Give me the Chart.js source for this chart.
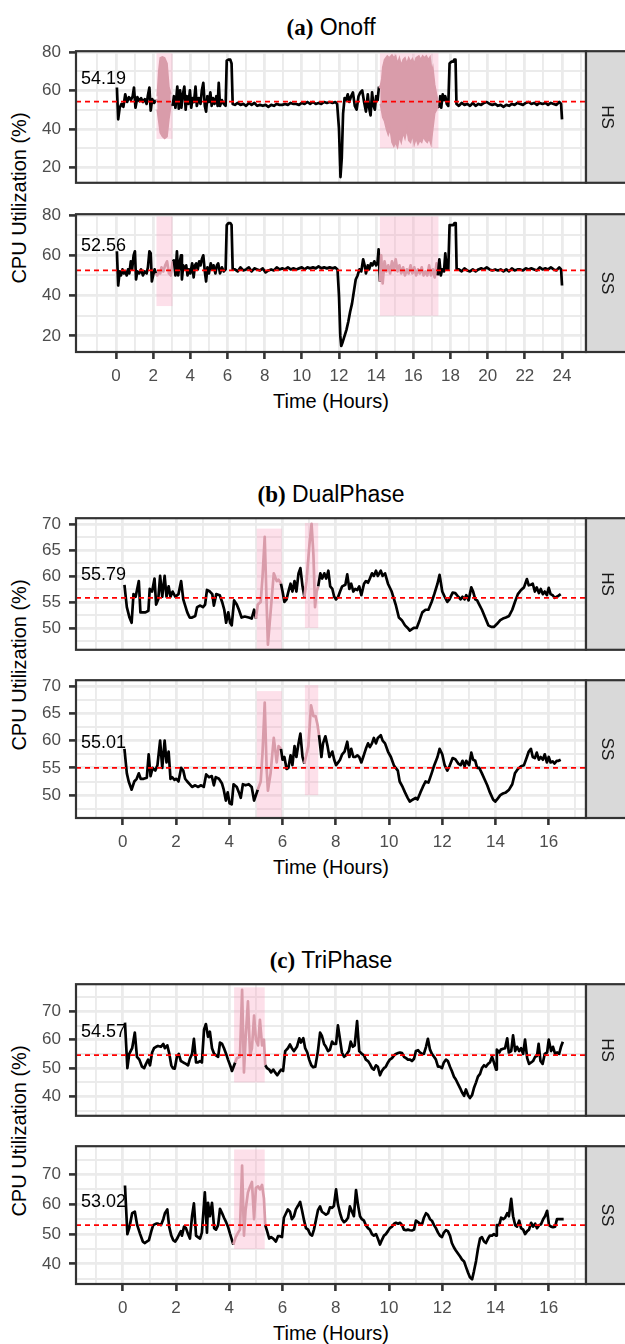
<!DOCTYPE html>
<html>
<head>
<meta charset="utf-8">
<script src="https://cdn.jsdelivr.net/npm/chart.js@4.4.1/dist/chart.umd.min.js"></script>
<style>
html,body{margin:0;padding:0;background:#fff;}
#root{position:relative;width:625px;height:1344px;overflow:hidden;font-family:"Liberation Sans",Arial,sans-serif;color:#000;}
#root canvas{position:absolute;left:0;}
.ptitle{position:absolute;left:76px;width:510px;text-align:center;font-size:23px;line-height:23px;white-space:nowrap;}
.ptitle b{font-family:"Liberation Serif","Times New Roman",serif;font-weight:bold;}
.xtitle{position:absolute;left:76px;width:510px;text-align:center;font-size:20px;line-height:20px;white-space:nowrap;}
.ytitle{position:absolute;width:0;height:0;}
.ytitle span{position:absolute;left:0;top:0;transform:translate(-50%,-50%) rotate(-90deg);white-space:nowrap;font-size:20px;line-height:20px;}
</style>
</head>
<body>
<div id="root"></div>
<script>
// ---------------- DATA ----------------
const groupLetters = ['(a)', '(b)', '(c)'];
const groupNames = ['Onoff', 'DualPhase', 'TriPhase'];
const facetNames = ['HS', 'SS'];
const xAxisTitle = 'Time (Hours)';
const yAxisTitle = 'CPU Utilization (%)';

const onoffMeans = [54.19, 52.56];
const dualMeans = [55.79, 55.01];
const triMeans = [54.57, 53.02];

const onoffXTicks = [0, 2, 4, 6, 8, 10, 12, 14, 16, 18, 20, 22, 24];
const phaseXTicks = [0, 2, 4, 6, 8, 10, 12, 14, 16];
const onoffYTicks = [20, 40, 60, 80];
const dualYTicks = [50, 55, 60, 65, 70];
const triYTicks = [40, 50, 60, 70];

// attack windows: [tStart, tEnd, yMin, yMax]
const onoffWindows = [[2.18, 3.04, 34.8, 79.3], [14.2, 17.35, 30.0, 79.3]];
const dualWindows = [[5.03, 5.97, 45.5, 69.1], [6.84, 7.34, 50.0, 70.2]];
const triWindows = [[4.18, 5.33, 45.0, 78.4]];

const onoffHS = [[0.05,61.5],[0.12,45],[0.2,51],[0.3,53],[0.4,51.5],[0.5,58],[0.6,54],[0.7,56.5],[0.8,55],[0.9,57],[0.97,61.5],[1.05,51],[1.15,56.5],[1.25,54.5],[1.35,56],[1.45,54],[1.55,55.5],[1.65,53],[1.72,57.5],[1.8,61.5],[1.87,49.5],[1.95,55.5],[2.05,53.5],[2.15,55],
[3.05,52],[3.12,57],[3.2,51],[3.3,62],[3.38,50.5],[3.45,60],[3.52,51],[3.6,58],[3.68,62],[3.75,50],[3.82,57],[3.9,53],[3.98,60],[4.05,51],[4.12,56],[4.2,54],[4.28,62],[4.35,52],[4.45,56],[4.55,53],[4.62,60],[4.7,64],[4.78,52],[4.85,49],[4.92,57],[5.0,54],[5.08,59],[5.15,52],[5.22,56],[5.3,53],[5.4,57],[5.47,52],[5.53,64],[5.6,52],[5.7,55],[5.8,53],[5.9,52],
[5.96,75.5],[6.05,76],[6.15,76],[6.22,74],[6.28,53],
[6.4,52.5],[6.55,53.5],[6.7,52.5],[6.85,53],[7.0,52],[7.15,53.5],[7.3,52.5],[7.45,53.5],[7.6,52],[7.75,52.5],[7.9,52],[8.05,52.5],[8.2,51.5],[8.35,52.5],[8.5,52],[8.65,53],[8.8,52.5],[8.95,52.5],[9.1,53],[9.25,52.5],[9.4,53.5],[9.55,53],[9.7,53],[9.85,52.5],[10.0,53.5],[10.15,53],[10.3,54],[10.45,53],[10.6,54],[10.75,53],[10.9,53.5],[11.05,53],[11.2,54],[11.35,53.5],[11.5,54],[11.65,53.5],[11.8,54],[11.9,53],
[12.0,40],[12.08,15],[12.15,25],[12.22,48],[12.3,56],
[12.38,55],[12.47,58],[12.55,54],[12.65,57],[12.75,59],[12.85,52],[12.95,50],[13.05,57],[13.15,59],[13.25,60],[13.35,54],[13.45,49],[13.55,58],[13.62,51],[13.7,47],[13.78,59],[13.86,52],[13.93,50],[14.0,57],[14.08,55],[14.15,62],
[17.4,51],[17.45,57],[17.5,51],[17.58,58],[17.65,55],[17.72,57],[17.8,53],[17.88,52],
[17.95,74],[18.05,75],[18.15,75],[18.2,76],[18.27,76],[18.32,53],
[18.45,52],[18.6,53.5],[18.75,52.5],[18.9,53],[19.05,52],[19.2,53.5],[19.35,52],[19.5,53],[19.65,52.5],[19.8,53.5],[19.95,54],[20.1,53],[20.25,52.5],[20.4,53],[20.55,52],[20.7,52.5],[20.85,51.5],[21.0,52.5],[21.15,52],[21.3,53],[21.45,52.5],[21.6,53.5],[21.75,53],[21.9,52.5],[22.05,53.5],[22.2,54],[22.35,53],[22.5,53.5],[22.65,52.5],[22.8,53.5],[22.95,53],[23.1,53.5],[23.25,52.5],[23.4,53.5],[23.55,53],[23.7,52.5],[23.85,54],[23.95,53],[24.0,45]];

// dense oscillation envelopes in the HS attack windows
const onoffHSBand1Hi = [[2.22,57],[2.3,70],[2.38,77],[2.5,77.5],[2.62,77],[2.75,74],[2.85,62],[2.95,58]];
const onoffHSBand1Lo = [[2.22,50],[2.3,44],[2.38,38],[2.5,36],[2.62,35],[2.75,36],[2.85,45],[2.95,52]];
const onoffHSBand2Hi = [[14.22,62],[14.3,66],[14.35,72],[14.45,76],[14.6,78],[14.7,77],[14.85,78.5],[14.95,77],[15.05,78],[15.15,74],[15.25,77],[15.35,73],[15.45,76],[15.55,77],[15.65,74],[15.75,77],[15.85,75],[15.95,76.5],[16.05,74],[16.15,77],[16.3,78],[16.4,76],[16.5,78],[16.6,77],[16.7,78],[16.8,76],[16.9,77.5],[17.0,70],[17.05,72],[17.15,63],[17.25,58],[17.32,55]];
const onoffHSBand2Lo = [[14.22,53],[14.3,49],[14.35,46],[14.45,44],[14.55,40],[14.65,37],[14.75,40],[14.85,33],[14.95,31],[15.05,33],[15.15,30.5],[15.25,36],[15.35,33],[15.45,38],[15.55,35],[15.65,40],[15.75,34],[15.85,33],[15.95,37],[16.05,32],[16.15,35],[16.25,32],[16.35,34],[16.45,33],[16.55,36],[16.65,34],[16.75,33],[16.85,35],[16.95,32],[17.05,40],[17.15,48],[17.25,50],[17.32,52]];

const onoffSS = [[0.05,62],[0.12,45],[0.2,52],[0.27,50],[0.35,53],[0.43,51],[0.5,52],[0.58,50],[0.65,53],[0.72,51],[0.8,57],[0.87,53],[0.95,60],[1.02,62],[1.08,48],[1.15,52],[1.25,51],[1.35,53],[1.45,50],[1.55,52],[1.65,51],[1.72,54],[1.8,62],[1.87,61],[1.93,47],[2.0,50],[2.08,53],[2.15,51],
[2.22,50],[2.3,52],[2.38,51],[2.45,54],[2.55,52],[2.65,55],[2.75,57],[2.85,51],[2.95,50],
[3.05,57],[3.12,57.5],[3.2,50],[3.28,62],[3.35,50],[3.42,56],[3.5,60],[3.55,48],[3.62,55],[3.7,53],[3.78,55],[3.85,50],[3.92,53],[4.0,51],[4.1,56],[4.18,49],[4.25,55],[4.32,56],[4.4,53],[4.48,57],[4.55,55],[4.62,58],[4.7,60],[4.78,52],[4.85,47],[4.92,54],[5.0,51],[5.1,56],[5.18,53],[5.25,55],[5.35,51],[5.43,55],[5.5,56],[5.6,51],[5.7,54],[5.8,52],[5.9,53],
[5.96,75],[6.05,76],[6.15,76],[6.22,75],[6.28,53],
[6.4,53],[6.55,52],[6.7,54],[6.85,52.5],[7.0,53],[7.15,54],[7.3,52],[7.45,53.5],[7.6,53],[7.75,52.5],[7.9,53.5],[8.05,51.5],[8.2,52.5],[8.35,53],[8.5,52.5],[8.65,54],[8.8,53],[8.95,53.5],[9.1,53],[9.25,54],[9.4,53],[9.55,53.5],[9.7,53],[9.85,53.5],[10.0,54],[10.15,53],[10.3,54],[10.45,53.5],[10.6,54],[10.75,53.5],[10.9,54.5],[11.05,53.5],[11.2,54],[11.35,53.5],[11.5,54],[11.65,53.5],[11.8,54],[11.92,53],
[12.0,40],[12.07,20],[12.12,15],[12.2,17],[12.3,20],[12.4,23],[12.5,27],[12.6,32],[12.7,36],[12.8,42],[12.9,48],[13.0,50],[13.1,53],[13.2,52],[13.3,58],[13.38,55],[13.45,51],[13.55,55],[13.62,53],[13.72,56],[13.8,55],[13.9,57],[14.0,55],[14.07,56],[14.13,63],
[14.2,47],[14.27,60],[14.35,46],[14.45,57],[14.55,52],[14.65,55],[14.75,51],[14.85,57],[14.95,53],[15.05,58],[15.15,52],[15.25,55],[15.35,51],[15.45,54],[15.55,50],[15.65,53],[15.75,51],[15.85,55],[15.95,51],[16.05,54],[16.15,50],[16.25,53],[16.35,51],[16.45,54],[16.55,50],[16.65,52],[16.75,50],[16.85,55],[16.95,50],[17.05,53],[17.15,49],[17.25,56],[17.32,50],
[17.4,58],[17.48,50],[17.55,53],[17.65,52],[17.72,61],[17.8,53],[17.88,53],
[17.95,75],[18.05,75],[18.15,75],[18.22,76],[18.28,76],[18.33,53],
[18.45,53],[18.6,52],[18.75,53.5],[18.9,52.5],[19.05,52],[19.2,53],[19.35,52],[19.5,53],[19.65,53.5],[19.8,53],[19.95,54],[20.1,53],[20.25,52.5],[20.4,53],[20.55,52.5],[20.7,53],[20.85,52],[21.0,53],[21.15,52],[21.3,53.5],[21.45,52.5],[21.6,53],[21.75,53],[21.9,52.5],[22.05,53.5],[22.2,53],[22.35,53.5],[22.5,53],[22.65,52.5],[22.8,54],[22.95,53],[23.1,53.5],[23.25,53],[23.4,54],[23.55,53],[23.7,52.5],[23.85,54],[23.95,53],[24.0,45]];

const dualHS = [[0.06,58.3],[0.15,54],[0.25,52],[0.33,51],[0.4,56.5],[0.48,56],[0.6,59],[0.66,53],[0.85,53],[0.96,53.3],[1.01,57.5],[1.1,57],[1.19,59.5],[1.25,54.5],[1.33,55.5],[1.4,60],[1.48,56],[1.57,60],[1.64,56],[1.72,58],[1.79,56],[1.87,57],[1.97,56],[2.09,56.5],[2.19,59],[2.27,55.5],[2.42,53],[2.51,52],[2.6,52],[2.72,52.3],[2.79,54],[2.91,54.3],[3.01,54],[3.09,54.5],[3.16,57.3],[3.27,57],[3.36,56.5],[3.42,54.3],[3.51,56.5],[3.64,56.3],[3.73,55],[3.81,53.5],[3.88,51],[3.96,53],[4.03,51],[4.09,50.5],[4.18,55.3],[4.28,54.5],[4.36,53.5],[4.46,52],[4.58,52.2],[4.73,52],[4.84,51.8],[4.93,53.5],[5.0,51.8],
[5.07,54.5],[5.18,55],[5.25,60],[5.33,67.5],[5.4,55],[5.45,46.8],[5.55,53],[5.67,60.5],[5.78,59],[5.85,59.3],[5.94,58.5],
[6.0,57],[6.07,55],[6.15,55.5],[6.22,57],[6.3,58.5],[6.37,57],[6.45,59],[6.52,57],[6.6,60.5],[6.67,61.5],[6.75,58],[6.82,56],
[6.9,59],[7.01,66],[7.09,70],[7.16,64],[7.22,54],[7.28,57],[7.34,58],
[7.42,60.5],[7.49,59.5],[7.57,60.5],[7.64,59.5],[7.72,61],[7.79,58],[7.87,57.5],[7.94,56],[8.01,55.5],[8.09,56],[8.16,57],[8.24,58],[8.36,58.3],[8.43,60.3],[8.51,57.5],[8.58,58.5],[8.66,57],[8.73,57.5],[8.81,57.3],[8.88,58],[8.96,56.3],[9.06,58.5],[9.13,59],[9.21,58.7],[9.28,59.5],[9.36,60.5],[9.43,60],[9.51,61],[9.58,60],[9.69,61],[9.76,60],[9.85,60.5],[9.96,58.5],[10.1,57],[10.25,54.5],[10.37,52],[10.48,51.5],[10.6,50.5],[10.7,50],[10.78,49.5],[10.93,50],[11.04,50],[11.15,51.5],[11.25,53],[11.37,53.5],[11.48,53.5],[11.6,55],[11.7,56.5],[11.82,58.5],[11.9,60.2],[12.0,57],[12.09,56],[12.19,55],[12.27,55.5],[12.39,56.8],[12.49,56.7],[12.6,56],[12.69,55.5],[12.76,56],[12.84,55.5],[12.9,56.3],[12.99,55.3],[13.09,57.8],[13.16,57],[13.24,55.5],[13.31,55.3],[13.39,54.5],[13.49,53.5],[13.61,52],[13.73,50.5],[13.84,50.2],[13.94,50.2],[14.06,50.8],[14.18,51.5],[14.28,51.8],[14.39,52],[14.51,52.3],[14.63,53.5],[14.73,55],[14.84,56.5],[14.96,57.3],[15.07,57.8],[15.18,59.4],[15.25,58.2],[15.33,58.3],[15.4,58.5],[15.48,57],[15.55,57.8],[15.63,56.7],[15.7,57.5],[15.78,56.5],[15.85,57],[15.93,56.3],[16.0,57.7],[16.07,56.5],[16.15,56.3],[16.22,55.8],[16.3,56],[16.37,56.2],[16.45,56.5]];

const dualSS = [[0.06,58.5],[0.15,54],[0.22,52.5],[0.33,51],[0.43,52.5],[0.52,53],[0.6,54],[0.67,53],[0.78,53],[0.9,53.2],[0.97,57.5],[1.04,53.5],[1.12,55],[1.22,54.5],[1.3,55.5],[1.4,60],[1.48,55],[1.57,60],[1.64,56],[1.72,58],[1.79,53],[1.85,53.3],[1.94,52.8],[2.01,53],[2.09,52.5],[2.19,55],[2.27,54.5],[2.34,53],[2.42,52.5],[2.51,52],[2.6,51.5],[2.72,51.8],[2.82,51.5],[2.94,51.8],[3.04,51.5],[3.13,53.8],[3.24,53.3],[3.34,53.5],[3.42,51.8],[3.49,53.3],[3.61,53],[3.72,52.2],[3.79,51],[3.87,49],[3.94,50.5],[4.01,48.5],[4.09,48.3],[4.16,52],[4.28,51.5],[4.36,50.5],[4.43,49.5],[4.51,52],[4.61,51.8],[4.73,52],[4.84,51.5],[4.93,49],
[5.07,51],[5.18,52.5],[5.25,58],[5.33,67],[5.4,55],[5.45,50.8],[5.55,54],[5.67,60.5],[5.78,56],[5.85,59],[5.94,58.5],
[6.0,56.5],[6.07,57],[6.15,54.8],[6.22,55],[6.3,57.3],[6.37,55.5],[6.45,59],[6.52,57],[6.6,59.5],[6.67,61.3],[6.75,57],[6.82,55.8],
[6.9,57.5],[6.97,59],[7.07,66.5],[7.16,64.5],[7.24,64.5],[7.31,63],
[7.37,61],[7.46,57],[7.52,59.5],[7.61,60.8],[7.69,59],[7.76,57],[7.87,58],[7.94,56.5],[8.01,55.5],[8.09,56],[8.16,56.5],[8.24,57.5],[8.33,58],[8.43,59.8],[8.51,57],[8.58,58.5],[8.66,57],[8.73,57],[8.81,57.3],[8.88,57],[8.96,56],[9.03,57],[9.13,58.5],[9.21,59.5],[9.28,58.8],[9.36,59.5],[9.43,60.5],[9.51,59.5],[9.58,60.5],[9.69,61],[9.76,60],[9.85,59.5],[9.96,58],[10.07,57],[10.18,55.5],[10.25,55],[10.33,54.5],[10.4,52.5],[10.51,51.5],[10.6,50.5],[10.7,49.5],[10.78,48.8],[10.9,49.2],[11.0,49.5],[11.07,49.2],[11.18,50.5],[11.27,51.5],[11.37,52.5],[11.48,52.3],[11.6,54],[11.7,55.5],[11.82,57],[11.9,58.5],[12.0,57.5],[12.09,55.5],[12.19,54.5],[12.27,55.3],[12.39,56.8],[12.49,56.6],[12.6,55.8],[12.69,55.5],[12.76,56.3],[12.84,55.3],[12.9,56.3],[13.01,55.5],[13.09,57.8],[13.16,56.5],[13.24,56.3],[13.31,55],[13.39,55],[13.49,54],[13.58,53],[13.69,51.8],[13.79,50.5],[13.91,49.2],[13.99,48.8],[14.06,49.2],[14.18,50],[14.28,50.3],[14.39,50.5],[14.51,51],[14.63,52],[14.73,54],[14.84,54.8],[14.96,55.3],[15.07,55.5],[15.18,57],[15.25,58],[15.33,58.5],[15.4,57],[15.48,56.8],[15.55,57.8],[15.63,56.5],[15.7,57],[15.78,56.5],[15.85,57.5],[15.93,56],[16.0,57],[16.07,56],[16.15,56.2],[16.22,55.8],[16.3,56.3],[16.37,56.3],[16.45,56.5]];

const triHS = [[0.08,66],[0.17,50],[0.24,55],[0.35,57],[0.45,62.5],[0.53,54],[0.62,53],[0.72,50.5],[0.8,50],[0.87,51.5],[0.95,53],[1.02,51],[1.1,55.5],[1.17,57],[1.25,57.5],[1.32,57.8],[1.43,57.5],[1.52,58.5],[1.58,57],[1.67,58],[1.74,55.3],[1.82,51],[1.88,50],[1.95,49.8],[2.03,54],[2.1,55],[2.18,52.5],[2.27,52],[2.37,51.5],[2.45,51],[2.52,53.3],[2.6,55],[2.67,60.3],[2.75,52],[2.82,52],[2.9,52.5],[2.97,52],[3.05,63.5],[3.12,65.5],[3.2,61],[3.27,62.8],[3.35,57],[3.43,55],[3.5,54.5],[3.58,54],[3.65,59],[3.73,58.5],[3.8,57],[3.88,55],[3.95,53],[4.03,51],[4.1,49],
[4.22,52],[4.28,53.5],[4.4,54],[4.48,77.5],[4.55,48.5],[4.61,60],[4.7,73.5],[4.78,54.5],[4.85,57],[4.93,68.5],[5.0,60],[5.08,58],[5.15,67],[5.23,58],[5.3,60],
[5.35,51],[5.42,50],[5.5,49.5],[5.57,48.5],[5.65,49.5],[5.72,48.5],[5.8,47.5],[5.87,48.5],[5.95,49.5],[6.02,49],[6.1,56],[6.2,57],[6.28,58.3],[6.35,57],[6.43,56],[6.54,57.5],[6.63,60.5],[6.69,59],[6.78,60.5],[6.85,57],[6.93,55.5],[7.0,53],[7.08,51],[7.15,50.3],[7.23,50.5],[7.33,56],[7.41,62.5],[7.48,61.3],[7.56,58.5],[7.63,57.5],[7.71,56],[7.78,56.5],[7.86,59.3],[7.93,58.5],[8.01,58.5],[8.08,65],[8.16,60],[8.23,55.5],[8.31,54],[8.38,54.5],[8.49,56],[8.56,59.3],[8.64,57.5],[8.71,58],[8.8,66.5],[8.88,56],[8.98,55],[9.06,54.5],[9.13,53],[9.21,52.5],[9.28,51.5],[9.36,50],[9.43,49.5],[9.51,51],[9.58,50.5],[9.66,47.5],[9.73,49],[9.81,50],[9.88,50.5],[9.96,52],[10.03,53],[10.11,53.5],[10.19,54.5],[10.26,55],[10.34,55.3],[10.41,55.5],[10.49,55.3],[10.56,54],[10.64,53.5],[10.71,53],[10.79,53],[10.86,52.5],[10.94,53.3],[11.01,56],[11.09,56.3],[11.16,55.5],[11.24,55],[11.31,55],[11.39,57.5],[11.46,60.3],[11.54,56.5],[11.61,55],[11.69,54],[11.76,53],[11.84,50.5],[11.91,50.5],[11.99,50],[12.06,52],[12.14,53],[12.21,52.5],[12.29,50.5],[12.36,49],[12.44,47],[12.51,46],[12.59,44.5],[12.67,43],[12.74,41.5],[12.82,40.3],[12.89,42.5],[12.97,40.5],[13.04,39.5],[13.12,40.5],[13.19,43],[13.27,45],[13.34,47],[13.42,48],[13.49,50],[13.57,51],[13.64,50.5],[13.72,51.5],[13.79,52],[13.87,54],[13.94,52],[14.02,49.5],[14.05,56.5],[14.14,55.5],[14.2,56.5],[14.29,56.8],[14.36,57],[14.44,60.5],[14.5,55.5],[14.59,56],[14.66,61.5],[14.74,56],[14.81,57.5],[14.89,56],[14.96,57],[15.04,55],[15.11,60],[15.19,53.5],[15.26,51.5],[15.34,52],[15.41,52.5],[15.49,54],[15.56,54.3],[15.62,58.5],[15.69,52.5],[15.77,51.5],[15.85,55],[15.94,55.5],[16.0,60],[16.09,56],[16.16,57.5],[16.24,55],[16.31,55.5],[16.39,55],[16.46,57.5],[16.53,59.3]];

const triSS = [[0.08,66.3],[0.17,50],[0.24,52],[0.35,57],[0.45,57.5],[0.54,53],[0.65,50],[0.75,47.5],[0.83,47],[0.9,47.5],[0.98,48],[1.07,51],[1.14,53],[1.25,53.5],[1.32,53.5],[1.43,53],[1.52,55],[1.58,57],[1.67,58.3],[1.74,52.5],[1.82,49.5],[1.89,48],[1.97,47.5],[2.04,48.5],[2.12,50],[2.18,51],[2.22,49.5],[2.3,52.5],[2.37,52],[2.45,50],[2.52,48.5],[2.6,56],[2.67,60.3],[2.75,49.5],[2.82,49],[2.9,48.5],[2.97,50.5],[3.08,64],[3.16,50.5],[3.2,60.5],[3.27,56],[3.35,60.5],[3.43,52],[3.5,51.5],[3.58,53],[3.65,58.5],[3.73,57],[3.8,55.5],[3.88,54],[3.95,52.5],[4.03,50],[4.1,48],[4.15,46.5],
[4.24,49],[4.33,50.5],[4.4,51.5],[4.48,73],[4.55,49.5],[4.61,58],[4.7,64],[4.78,66],[4.85,67.5],[4.93,55],[5.0,65.5],[5.08,66],[5.15,65],[5.23,66.5],[5.3,62],
[5.35,53],[5.42,51],[5.5,48.5],[5.57,49],[5.65,48.5],[5.75,47.5],[5.83,49.3],[5.9,49.3],[5.98,49],[6.05,55.5],[6.13,57],[6.2,58.3],[6.28,57.5],[6.35,55],[6.43,56],[6.5,58.3],[6.58,59.5],[6.66,60.8],[6.73,58],[6.81,54.5],[6.88,52],[6.96,51.5],[7.03,50],[7.11,49.5],[7.18,51.5],[7.26,55],[7.33,58],[7.41,59.3],[7.48,57.5],[7.56,57],[7.63,56.5],[7.71,57],[7.78,59],[7.86,58.8],[7.93,59.5],[8.01,65],[8.08,60],[8.16,57],[8.23,55],[8.31,54],[8.38,54.5],[8.46,55.5],[8.53,59.3],[8.61,57.5],[8.68,56],[8.76,64.8],[8.83,60],[8.91,56],[8.98,55],[9.06,54.5],[9.13,53],[9.21,52],[9.28,51.5],[9.36,50],[9.43,49.5],[9.51,50],[9.58,48.5],[9.66,46.5],[9.73,48],[9.81,49.5],[9.88,50],[9.96,51],[10.03,52],[10.11,52.5],[10.19,53.5],[10.26,53.8],[10.34,53.5],[10.41,53.8],[10.49,53],[10.56,51.5],[10.64,51.3],[10.71,51.5],[10.79,51.3],[10.86,51.2],[10.94,51.5],[11.01,54.5],[11.09,54],[11.16,53.5],[11.24,53.3],[11.31,55.5],[11.39,57],[11.46,56.5],[11.54,55],[11.61,54.5],[11.69,53],[11.76,52],[11.84,50.5],[11.91,49.5],[11.99,49],[12.06,50.5],[12.14,51.3],[12.21,51],[12.29,49.5],[12.36,47],[12.44,45.5],[12.51,44.5],[12.59,43.5],[12.67,42.5],[12.74,41.5],[12.82,40.8],[12.89,39],[12.97,37],[13.04,35.5],[13.12,34.8],[13.19,37.5],[13.27,41],[13.34,45],[13.42,48.5],[13.49,49],[13.57,47.5],[13.64,47],[13.72,48.5],[13.79,49.5],[13.87,49.5],[13.94,50],[14.02,49.5],[14.05,53],[14.14,53],[14.21,55.5],[14.29,55],[14.36,55.5],[14.44,57],[14.5,56],[14.59,61.8],[14.66,56],[14.74,53],[14.81,52.5],[14.89,54.5],[14.96,52],[15.04,51.5],[15.11,50],[15.19,51],[15.26,51.5],[15.34,53.8],[15.41,52.5],[15.49,53.5],[15.56,52],[15.64,53],[15.71,53.3],[15.79,55],[15.86,56],[15.94,57.8],[16.01,53],[16.09,52.5],[16.16,52.3],[16.24,52.5],[16.31,55],[16.42,55],[16.56,55]];

// ---------------- LAYOUT / STYLE ----------------
const FONT = '"Liberation Sans", Arial, sans-serif';
const MAUVE = '#D99CAA';
const PANEL_H = 144;
const PAD = 12;
const X_AXIS_H = 46;

const groups = [
  { letter: groupLetters[0], name: groupNames[0], tops: [44.5, 208], titleY: 27, xTitleY: 401,
    xRange: [-2.15, 25.29], yRange: [12.0, 80.4], xLabels: onoffXTicks, yLabels: onoffYTicks,
    windows: onoffWindows, means: onoffMeans, labelY: [66.1, 64.5],
    series: [onoffHS, onoffSS],
    bands: [[{hi: onoffHSBand1Hi, lo: onoffHSBand1Lo}, {hi: onoffHSBand2Hi, lo: onoffHSBand2Lo}], []] },
  { letter: groupLetters[1], name: groupNames[1], tops: [511.7, 674], titleY: 494, xTitleY: 867,
    xRange: [-1.76, 17.4], yRange: [45.8, 71.1], xLabels: phaseXTicks, yLabels: dualYTicks,
    windows: dualWindows, means: dualMeans, labelY: [60.2, 59.5],
    series: [dualHS, dualSS], bands: [[], []] },
  { letter: groupLetters[2], name: groupNames[2], tops: [977.7, 1140], titleY: 960, xTitleY: 1333,
    xRange: [-1.76, 17.4], yRange: [33.25, 79.5], xLabels: phaseXTicks, yLabels: triYTicks,
    windows: triWindows, means: triMeans, labelY: [62.6, 60.7],
    series: [triHS, triSS], bands: [[], []] }
];

const root = document.getElementById('root');

function gridValues(labels, lo, hi) {
  const step = labels[1] - labels[0], half = step / 2;
  let v = labels[0];
  while (v - half >= lo) v -= half;
  const out = [];
  for (; v <= hi + 1e-9; v += half) {
    const r = Math.round(v * 1000) / 1000;
    const k = (r - labels[0]) / step;
    const isMajorPos = Math.abs(k - Math.round(k)) < 1e-6;
    if (!isMajorPos || labels.some(l => Math.abs(l - r) < 1e-6)) out.push(r);
  }
  return out;
}
const inList = (arr, v) => arr.some(a => Math.abs(a - v) < 1e-6);
const inWin = (t, wins) => wins.some(w => t >= w[0] && t <= w[1]);
const pts = arr => arr.map(([x, y]) => ({x, y}));

const deco = {
  id: 'deco',
  beforeDatasetsDraw(chart, args, o) {
    const {ctx, chartArea: a, scales: {x, y}} = chart;
    ctx.save();
    ctx.beginPath(); ctx.rect(a.left, a.top, a.width, a.height); ctx.clip();
    ctx.fillStyle = 'rgba(250,160,190,0.32)';
    o.windows.forEach(w => {
      const x0 = x.getPixelForValue(w[0]), x1 = x.getPixelForValue(w[1]);
      const y0 = y.getPixelForValue(w[3]), y1 = y.getPixelForValue(w[2]);
      ctx.fillRect(x0, y0, x1 - x0, y1 - y0);
    });
    ctx.restore();
  },
  afterDatasetsDraw(chart, args, o) {
    const {ctx, chartArea: a, scales: {y}} = chart;
    ctx.save();
    const ym = y.getPixelForValue(o.mean);
    ctx.strokeStyle = '#FF0000'; ctx.lineWidth = 1.7; ctx.setLineDash([5, 4]);
    ctx.beginPath(); ctx.moveTo(a.left, ym); ctx.lineTo(a.right, ym); ctx.stroke();
    ctx.setLineDash([]);
    ctx.fillStyle = '#000'; ctx.font = '18px ' + FONT;
    ctx.textAlign = 'left'; ctx.textBaseline = 'middle';
    ctx.fillText(o.mean.toFixed(2), a.left + 5, y.getPixelForValue(o.labelY));
    ctx.strokeStyle = '#333333'; ctx.lineWidth = 2.2;
    ctx.strokeRect(a.left, a.top, a.width, a.height);
    ctx.fillStyle = '#D9D9D9';
    ctx.fillRect(a.right, a.top, 80, a.height);
    ctx.strokeRect(a.right, a.top, 80, a.height);
    ctx.translate(607, (a.top + a.bottom) / 2);
    ctx.rotate(Math.PI / 2);
    ctx.fillStyle = '#1A1A1A'; ctx.font = '17px ' + FONT;
    ctx.textAlign = 'center'; ctx.textBaseline = 'middle';
    ctx.fillText(o.strip, 0, 0);
    ctx.restore();
  }
};

function makePanel(g, fi) {
  const showX = fi === 1;
  const H = PAD + PANEL_H + (showX ? X_AXIS_H : PAD);
  const cv = document.createElement('canvas');
  cv.width = 625; cv.height = H;
  cv.style.top = (g.tops[fi] - PAD) + 'px';
  cv.style.width = '625px'; cv.style.height = H + 'px';
  root.appendChild(cv);
  const xGrid = gridValues(g.xLabels, g.xRange[0], g.xRange[1]);
  const yGrid = gridValues(g.yLabels, g.yRange[0], g.yRange[1]);
  const datasets = [];
  g.bands[fi].forEach(b => {
    datasets.push({data: pts(b.lo), borderColor: MAUVE, borderWidth: 1.5, pointRadius: 0, fill: false});
    datasets.push({data: pts(b.hi), borderColor: MAUVE, borderWidth: 1.5, pointRadius: 0, backgroundColor: MAUVE, fill: '-1'});
  });
  datasets.push({
    data: pts(g.series[fi]), borderColor: '#000', borderWidth: 2.7, pointRadius: 0, fill: false,
    borderJoinStyle: 'round', tension: 0,
    segment: { borderColor: c => inWin((c.p0.parsed.x + c.p1.parsed.x) / 2, g.windows) ? MAUVE : '#000' }
  });
  const tickFont = {family: FONT, size: 17};
  new Chart(cv, {
    type: 'line',
    data: {datasets},
    options: {
      responsive: false, animation: false, devicePixelRatio: 1,
      layout: {padding: {left: 0, right: 39, top: PAD, bottom: showX ? 0 : PAD}},
      plugins: {
        legend: {display: false}, tooltip: {enabled: false},
        deco: {windows: g.windows, mean: g.means[fi], labelY: g.labelY[fi], strip: facetNames[fi]}
      },
      scales: {
        x: {
          type: 'linear', min: g.xRange[0], max: g.xRange[1], bounds: 'data',
          afterBuildTicks: s => { s.ticks = xGrid.map(v => ({value: v})); },
          afterFit: s => { s.height = showX ? X_AXIS_H : 0; },
          ticks: {display: showX, autoSkip: false, maxRotation: 0, minRotation: 0, padding: 7, color: '#4D4D4D', font: tickFont,
                  callback: v => inList(g.xLabels, v) ? String(v) : ''},
          grid: {color: '#EBEBEB', lineWidth: c => inList(g.xLabels, c.tick.value) ? 2.8 : 1.9,
                 drawTicks: showX, tickLength: 7, tickWidth: 2.6,
                 tickColor: c => inList(g.xLabels, c.tick.value) ? '#333333' : 'rgba(0,0,0,0)'},
          border: {display: false}
        },
        y: {
          type: 'linear', min: g.yRange[0], max: g.yRange[1], bounds: 'data',
          afterBuildTicks: s => { s.ticks = yGrid.map(v => ({value: v})); },
          afterFit: s => { s.width = 76; },
          ticks: {autoSkip: false, padding: 8, color: '#4D4D4D', font: tickFont,
                  callback: v => inList(g.yLabels, v) ? String(v) : ''},
          grid: {color: '#EBEBEB', lineWidth: c => inList(g.yLabels, c.tick.value) ? 2.8 : 1.9,
                 drawTicks: true, tickLength: 7, tickWidth: 2.6,
                 tickColor: c => inList(g.yLabels, c.tick.value) ? '#333333' : 'rgba(0,0,0,0)'},
          border: {display: false}
        }
      }
    },
    plugins: [deco]
  });
}

groups.forEach(g => {
  const t = document.createElement('div');
  t.className = 'ptitle';
  t.style.top = (g.titleY - 11.5) + 'px';
  t.innerHTML = '<b>' + g.letter + '</b> ' + g.name;
  root.appendChild(t);
  const xt = document.createElement('div');
  xt.className = 'xtitle';
  xt.style.top = (g.xTitleY - 10) + 'px';
  xt.textContent = xAxisTitle;
  root.appendChild(xt);
  const yt = document.createElement('div');
  yt.className = 'ytitle';
  yt.style.left = '19px';
  yt.style.top = ((g.tops[0] + g.tops[1] + PANEL_H) / 2) + 'px';
  const sp = document.createElement('span');
  sp.textContent = yAxisTitle;
  yt.appendChild(sp);
  root.appendChild(yt);
  makePanel(g, 0);
  makePanel(g, 1);
});
</script>
</body>
</html>
